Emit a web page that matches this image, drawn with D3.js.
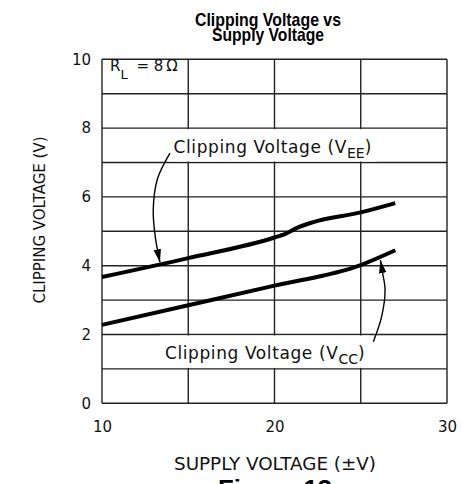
<!DOCTYPE html>
<html>
<head>
<meta charset="utf-8">
<script src="https://cdn.jsdelivr.net/npm/d3@7"></script>
<style>
  body { margin: 0; background: #fff; }
  svg { display: block; }
  .plot-text { font-family: "DejaVu Sans", sans-serif; fill: #111; }
  .title { font-family: "Liberation Sans", Arial, sans-serif; font-weight: bold; fill: #000; }
</style>
</head>
<body>
<svg id="chart" width="463" height="484"></svg>
<script>
// DATA
const supplyEE = [10, 15, 20, 20.6, 21.4, 22.2, 25, 27];
const clipEE = [3.67, 4.22, 4.82, 4.92, 5.12, 5.26, 5.55, 5.82];
const supplyCC = [10, 15, 20, 25, 27];
const clipCC = [2.28, 2.85, 3.42, 4.02, 4.45];

const xTickLabels = [10, 20, 30];
const yTickLabels = [0, 2, 4, 6, 8, 10];
const xGridValues = [10, 15, 20, 25, 30];
const yGridValues = [0, 1, 2, 3, 4, 5, 6, 7, 8, 9, 10];

// annotation arrows, in data units (supply, clipping)
const arrowEE = [[13.94, 7.27], [13.2, 6.5], [12.97, 5.6], [13.1, 4.8], [13.36, 4.1]];
const arrowCC = [[25.73, 1.79], [26.21, 2.52], [26.41, 3.29], [26.27, 3.78], [26.14, 4.16]];

// SETUP
const svg = d3.select('#chart'),
  margin = { top: 59.3, right: 16, bottom: 80.7, left: 102 },
  width = 463 - margin.left - margin.right,
  height = 484 - margin.top - margin.bottom;

const x = d3.scaleLinear().domain([10, 30]).range([margin.left, margin.left + width]);
const y = d3.scaleLinear().domain([0, 10]).range([margin.top + height, margin.top]);

// ARROW HEAD
svg.append('defs')
  .append('marker')
  .attr('id', 'head')
  .attr('markerUnits', 'userSpaceOnUse')
  .attr('markerWidth', 14)
  .attr('markerHeight', 8)
  .attr('refX', 13)
  .attr('refY', 3.75)
  .attr('orient', 'auto')
  .append('path')
  .attr('d', 'M0,0 L13,3.75 L0,7.5 Z')
  .attr('fill', '#000');

// TITLE
svg.append('text').attr('class', 'title')
  .attr('x', 268).attr('y', 26).attr('text-anchor', 'middle')
  .attr('font-size', 19).attr('textLength', 146).attr('lengthAdjust', 'spacingAndGlyphs')
  .text('Clipping Voltage vs');
svg.append('text').attr('class', 'title')
  .attr('x', 268).attr('y', 41).attr('text-anchor', 'middle')
  .attr('font-size', 19).attr('textLength', 112).attr('lengthAdjust', 'spacingAndGlyphs')
  .text('Supply Voltage');

// GRID
const grid = svg.append('g').attr('stroke', '#222').attr('stroke-width', 1.4);
grid.selectAll('.vgrid').data(xGridValues).enter().append('line')
  .attr('class', 'vgrid')
  .attr('x1', d => x(d)).attr('x2', d => x(d))
  .attr('y1', y(0)).attr('y2', y(10));
grid.selectAll('.hgrid').data(yGridValues).enter().append('line')
  .attr('class', 'hgrid')
  .attr('x1', x(10)).attr('x2', x(30))
  .attr('y1', d => y(d)).attr('y2', d => y(d));

// AXES (labels only)
const xAxis = svg.append('g')
  .attr('transform', 'translate(0,' + (y(0) + 18) + ')')
  .call(d3.axisBottom(x).tickValues(xTickLabels).tickSize(0).tickPadding(0));
const yAxis = svg.append('g')
  .attr('transform', 'translate(' + (x(10) - 11) + ',0)')
  .call(d3.axisLeft(y).tickValues(yTickLabels).tickSize(0).tickPadding(0));
[xAxis, yAxis].forEach(a => {
  a.select('.domain').remove();
  a.selectAll('text').attr('class', 'plot-text').attr('font-size', 15).style('fill', '#111');
});
xAxis.selectAll('text').attr('dy', '0.71em');

// AXIS TITLES
svg.append('text').attr('class', 'plot-text')
  .attr('x', 275).attr('y', 470).attr('text-anchor', 'middle')
  .attr('font-size', 17).attr('textLength', 202).attr('lengthAdjust', 'spacingAndGlyphs')
  .text('SUPPLY VOLTAGE (±V)');
svg.append('text').attr('class', 'plot-text')
  .attr('transform', 'translate(45,220) rotate(-90)')
  .attr('text-anchor', 'middle')
  .attr('font-size', 16).attr('textLength', 167).attr('lengthAdjust', 'spacingAndGlyphs')
  .text('CLIPPING VOLTAGE (V)');

// FIGURE CAPTION (cut off by the bottom edge)
svg.append('text').attr('class', 'title')
  .attr('x', 275).attr('y', 497).attr('text-anchor', 'middle')
  .attr('font-size', 24).attr('textLength', 114).attr('lengthAdjust', 'spacingAndGlyphs')
  .text('Figure 13');

// R_L NOTE
const rl = svg.append('text').attr('class', 'plot-text')
  .attr('x', x(10) + 8).attr('y', y(9.7) + 1.5)
  .attr('font-size', 15);
rl.append('tspan').text('R');
rl.append('tspan').attr('dy', 8).attr('font-size', 13).text('L');
rl.append('tspan').attr('dy', -8).attr('dx', 4).text(' = 8\u2009\u03A9');

// SERIES LABELS WITH WHITE BACKGROUND
function seriesLabel(sx, row, sub) {
  const bg = svg.append('rect').attr('fill', '#fff');
  const t = svg.append('text').attr('class', 'plot-text')
    .attr('x', x(sx)).attr('y', y(row) - 10)
    .attr('font-size', 17).attr('letter-spacing', 0.6);
  t.append('tspan').text('Clipping Voltage (V');
  t.append('tspan').attr('dy', 5).attr('font-size', 14).attr('letter-spacing', 0).text(sub);
  t.append('tspan').attr('dy', -5).text(')');
  const b = t.node().getBBox();
  bg.attr('x', b.x - 5).attr('width', b.width + 10)
    .attr('y', y(row + 1) + 1).attr('height', y(row) - y(row + 1) - 2);
}
seriesLabel(14.15, 7, 'EE');
seriesLabel(13.65, 1, 'CC');

// LINES
const line = d3.line().x(d => x(d[0])).y(d => y(d[1])).curve(d3.curveMonotoneX);
svg.append('path')
  .datum(supplyEE.map((s, i) => [s, clipEE[i]]))
  .attr('d', line)
  .attr('fill', 'none').attr('stroke', '#000').attr('stroke-width', 4);
svg.append('path')
  .datum(supplyCC.map((s, i) => [s, clipCC[i]]))
  .attr('d', line)
  .attr('fill', 'none').attr('stroke', '#000').attr('stroke-width', 4);

// ARROWS
const arrowLine = d3.line().x(d => x(d[0])).y(d => y(d[1])).curve(d3.curveCatmullRom);
[arrowEE, arrowCC].forEach(a => {
  svg.append('path')
    .datum(a)
    .attr('d', arrowLine)
    .attr('fill', 'none').attr('stroke', '#000').attr('stroke-width', 1.4)
    .attr('marker-end', 'url(#head)');
});
</script>
</body>
</html>
